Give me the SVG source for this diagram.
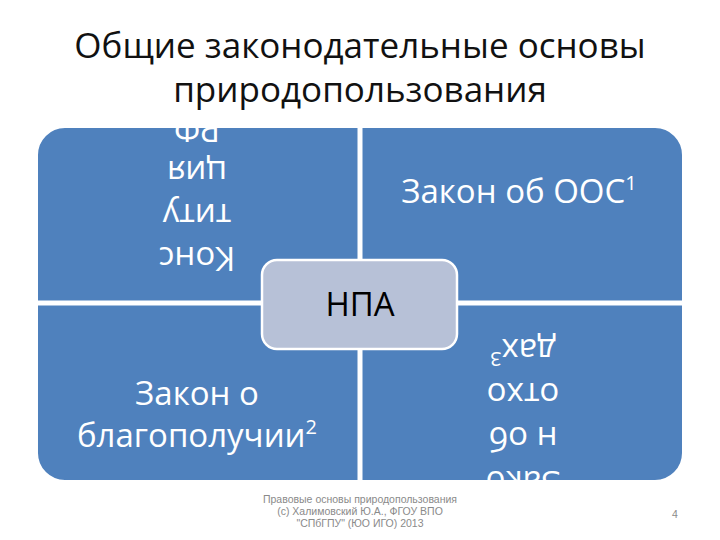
<svg xmlns="http://www.w3.org/2000/svg" width="720" height="540" viewBox="0 0 720 540">
<style>
.title{font-family:"Open Sans","Liberation Sans",sans-serif;font-size:35px;fill:#111;text-anchor:middle}
.q{fill:#4f81bd;stroke:#ffffff;stroke-width:2}
.qt{font-family:"Open Sans","Liberation Sans",sans-serif;font-size:33px;fill:#ffffff;text-anchor:middle}
.sup{font-size:20px}
.hub{fill:#b7c1d7;stroke:#ffffff;stroke-width:2.5}
.ht{font-family:"Open Sans","Liberation Sans",sans-serif;font-size:33px;fill:#000;text-anchor:middle}
.ft{font-family:"Liberation Sans","Open Sans",sans-serif;font-size:10.5px;fill:#8a8a8a;text-anchor:middle}
</style>
<defs>
<clipPath id="cTL"><path d="M37,155 A28,28 0 0 1 65,127 L358.5,127 L358.5,301.5 L37,301.5 Z"/></clipPath>
<clipPath id="cBR"><path d="M361.5,304.5 L683,304.5 L683,453 A28,28 0 0 1 655,481 L361.5,481 Z"/></clipPath>
</defs>
<rect width="720" height="540" fill="#ffffff"/>
<text class="title" x="360" y="58">Общие законодательные основы</text>
<text class="title" x="360" y="102">природопользования</text>

<g id="q-constitution">
<path class="q" d="M37,155 A28,28 0 0 1 65,127 L358.5,127 L358.5,301.5 L37,301.5 Z"/>
<g clip-path="url(#cTL)">
<g transform="translate(197,247) rotate(180)">
<text class="qt" x="0" y="0">Конс</text>
<text class="qt" x="0" y="43">титу</text>
<text class="qt" x="0" y="86">ция</text>
<text class="qt" x="0" y="129">РФ</text>
</g>
</g>
</g>

<g id="q-ooc">
<path class="q" d="M361.5,127 L655,127 A28,28 0 0 1 683,155 L683,301.5 L361.5,301.5 Z"/>
<text class="qt" x="519" y="203">Закон об ООС<tspan class="sup" dy="-13">1</tspan></text>
</g>

<g id="q-welfare">
<path class="q" d="M37,304.5 L358.5,304.5 L358.5,481 L65,481 A28,28 0 0 1 37,453 Z"/>
<text class="qt" x="197" y="405">Закон о</text>
<text class="qt" x="197" y="447">благополучии<tspan class="sup" dy="-13">2</tspan></text>
</g>

<g id="q-waste">
<path class="q" d="M361.5,304.5 L683,304.5 L683,453 A28,28 0 0 1 655,481 L361.5,481 Z"/>
<g clip-path="url(#cBR)">
<g transform="translate(523,471) rotate(180)">
<text class="qt" x="0" y="0">Зако</text>
<text class="qt" x="0" y="44">н об</text>
<text class="qt" x="0" y="88">отхо</text>
<text class="qt" x="0" y="132">дах<tspan class="sup" dy="-13">3</tspan></text>
</g>
</g>
</g>

<g id="hub">
<rect class="hub" x="262" y="260" width="195" height="89" rx="15"/>
<text class="ht" x="360" y="316">НПА</text>
</g>

<g id="connectors"></g>

<g id="footer">
<text class="ft" x="360" y="503">Правовые основы природопользования</text>
<text class="ft" x="360" y="515">(c) Халимовский Ю.А., ФГОУ ВПО</text>
<text class="ft" x="360" y="527">"СПбГПУ" (ЮО ИГО) 2013</text>
<text class="ft" x="675" y="518">4</text>
</g>
</svg>
